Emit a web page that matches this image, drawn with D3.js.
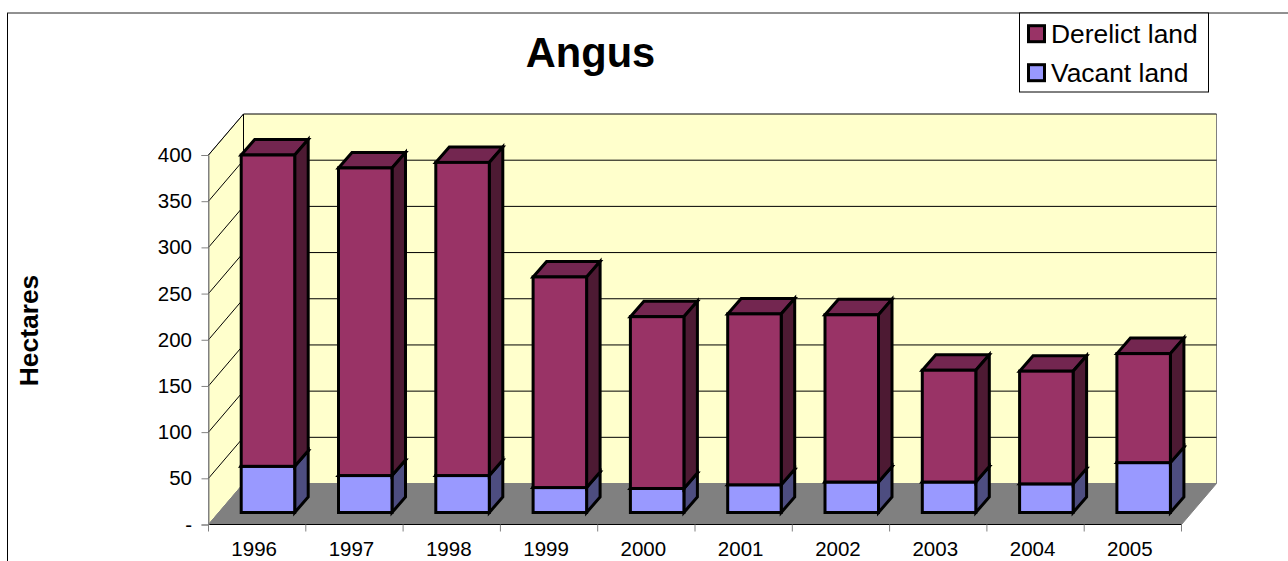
<!DOCTYPE html>
<html>
<head>
<meta charset="utf-8">
<script src="https://cdn.jsdelivr.net/npm/d3@7"></script>
<style>
  html, body { margin: 0; padding: 0; background: #fff; overflow: hidden; }
  text { font-family: "Liberation Sans", Arial, sans-serif; fill: #000; }
</style>
</head>
<body>
<div id="chart"></div>
<script>
const years = ["1996", "1997", "1998", "1999", "2000", "2001", "2002", "2003", "2004", "2005"];
const vacant = [50, 40, 40, 27, 26, 30, 33, 33, 31, 54];
const derelict = [337, 333, 339, 228, 186, 185, 181, 121, 122, 118];
const yTicks = [0, 50, 100, 150, 200, 250, 300, 350, 400];
const legendItems = ["Derelict land", "Vacant land"];

const W = 1288, H = 561;
const svg = d3.select("#chart").append("svg").attr("width", W).attr("height", H);

// front plane of the 3d box, the back wall is shifted by depth
const depth = {x: 35, y: -41};
const x = d3.scaleBand().domain(years).range([208.5, 1181.5]);
const y = d3.scaleLinear().domain([0, 400]).range([524.5, 155]);

// bars sit part way into the floor
const barShift = {x: 10.8, y: -12};
const barDepth = {x: 13.5, y: -15.5};
const barW = 53.5;

// outer frame, only top and left are inside the picture
svg.append("path").attr("d", `M7.5,${H}V13`).attr("fill", "none").attr("stroke", "#000");
svg.append("path").attr("d", `M7,13H${W}`).attr("fill", "none").attr("stroke", "#222");

const x0 = x.range()[0], x1 = x.range()[1];
const yBase = y(0), yTop = y(400);

// side wall
svg.append("path")
    .attr("d", `M${x0},${yBase}L${x0},${yTop}L${x0 + depth.x},${yTop + depth.y}L${x0 + depth.x},${yBase + depth.y}Z`)
    .attr("fill", "#ffffcc").attr("stroke", "#808080");

// back wall
svg.append("rect")
    .attr("x", x0 + depth.x).attr("y", yTop + depth.y)
    .attr("width", x1 - x0).attr("height", yBase - yTop)
    .attr("fill", "#ffffcc");
svg.append("path")
    .attr("d", `M${x1 + depth.x},${yTop + depth.y}V${yBase + depth.y}`)
    .attr("stroke", "#808080").attr("fill", "none");

// gridlines over side and back wall
yTicks.forEach(t => {
    if (t === 0) return;
    svg.append("path")
        .attr("d", `M${x0},${y(t)}L${x0 + depth.x},${y(t) + depth.y}H${x1 + depth.x}`)
        .attr("fill", "none").attr("stroke", "#000");
});
svg.append("path")
    .attr("d", `M${x0 + depth.x},${yBase + depth.y}V${yTop + depth.y}`)
    .attr("fill", "none").attr("stroke", "#000");

// floor
svg.append("path")
    .attr("d", `M${x0},${yBase}L${x0 + depth.x},${yBase + depth.y}H${x1 + depth.x}L${x1},${yBase}Z`)
    .attr("fill", "#808080").attr("stroke", "#808080");
svg.append("path")
    .attr("d", `M${x0},${yBase}H${x1}`)
    .attr("stroke", "#000");

// axes
const yAxis = d3.axisLeft(y).tickValues(yTicks).tickSize(7).tickPadding(9.5)
    .tickFormat(d => d === 0 ? "-" : d);
const yG = svg.append("g").attr("transform", `translate(${x0},0)`).call(yAxis);
yG.selectAll("text").attr("font-size", 20.5).style("font-family", '"Liberation Sans"');
yG.selectAll("line,path").attr("stroke", "#808080");

const xAxis = d3.axisBottom(x).tickSize(0).tickPadding(17);
const xG = svg.append("g").attr("transform", `translate(0,${yBase})`).call(xAxis);
xG.select(".domain").remove();
xG.selectAll("text").attr("font-size", 20.5).attr("dx", -3).style("font-family", '"Liberation Sans"');
svg.append("g").selectAll("line")
    .data(years.concat("end"))
    .join("line")
    .attr("x1", (d, i) => x0 + i * x.bandwidth())
    .attr("x2", (d, i) => x0 + i * x.bandwidth())
    .attr("y1", yBase).attr("y2", yBase + 7)
    .attr("stroke", "#808080");

// bars
const px = d => d * (y(0) - y(1));
function drawBox(g, left, bottom, h, front, top, side) {
    const right = left + barW, up = bottom - h;
    const d = barDepth;
    g.append("path")
        .attr("d", `M${left},${up}L${left + d.x},${up + d.y}H${right + d.x}L${right},${up}Z`)
        .attr("fill", top);
    g.append("path")
        .attr("d", `M${right},${bottom}L${right + d.x},${bottom + d.y}V${up + d.y}L${right},${up}Z`)
        .attr("fill", side);
    g.append("rect")
        .attr("x", left).attr("y", up).attr("width", barW).attr("height", h)
        .attr("fill", front);
}

years.forEach((yr, i) => {
    const g = svg.append("g")
        .attr("stroke", "#000").attr("stroke-width", 3).attr("stroke-linejoin", "miter");
    const left = x(yr) + x.bandwidth() / 2 + barShift.x - barW / 2;
    const bottom = yBase + barShift.y;
    drawBox(g, left, bottom, px(vacant[i]), "#9999ff", "#7a7acc", "#4d4d80");
    drawBox(g, left, bottom - px(vacant[i]), px(derelict[i]), "#993366", "#732650", "#4d1a33");
});

// title
svg.append("text").attr("x", 590.5).attr("y", 67)
    .attr("text-anchor", "middle").attr("font-size", 41.6).attr("font-weight", "bold")
    .text("Angus");

// y title
svg.append("text")
    .attr("transform", "translate(37.5,330.5) rotate(-90)")
    .attr("text-anchor", "middle").attr("font-size", 26.4).attr("font-weight", "bold")
    .text("Hectares");

// legend
const legend = svg.append("g");
legend.append("rect").attr("x", 1019.5).attr("y", 13).attr("width", 189).attr("height", 79)
    .attr("fill", "#fff").attr("stroke", "#000");
legendItems.forEach((name, i) => {
    const ly = 33.7 + i * 39;
    legend.append("rect").attr("x", 1028.5).attr("y", ly - 8).attr("width", 16).attr("height", 16)
        .attr("fill", i === 0 ? "#993366" : "#9999ff").attr("stroke", "#000").attr("stroke-width", 3);
    legend.append("text").attr("x", 1051).attr("y", ly + 9.3).attr("font-size", 26.4).text(name);
});
</script>
</body>
</html>
